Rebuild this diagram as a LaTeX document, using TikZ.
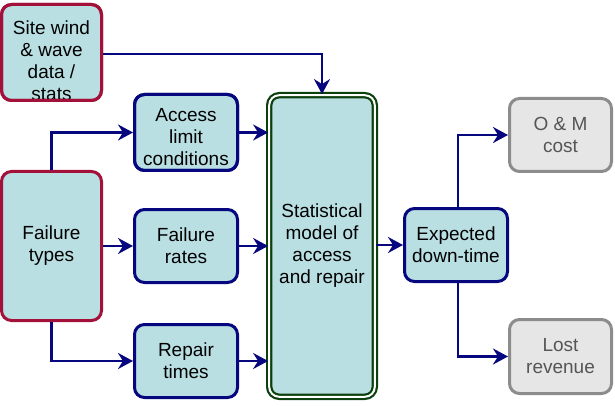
\documentclass[tikz,border=0pt]{standalone}
\usepackage{fontspec}
\setmainfont{Liberation Sans}
\usetikzlibrary{arrows.meta}
\definecolor{boxfill}{HTML}{B9DFE3}
\definecolor{navyb}{HTML}{06067F}
\definecolor{redb}{HTML}{A3103A}
\definecolor{greenb}{HTML}{0C400C}
\definecolor{grayfill}{HTML}{E6E6E6}
\definecolor{grayb}{HTML}{8C8C8C}
\definecolor{graytext}{HTML}{555555}
\begin{document}
\begin{tikzpicture}[x=1pt,y=-1pt,
  base/.style={rounded corners=10pt, align=center, inner sep=0pt,
    font=\fontsize{19}{22}\selectfont, fill=boxfill},
  txt/.style={align=center, inner sep=0pt, font=\fontsize{19}{22}\selectfont},
  bluebox/.style={base, draw=navyb, line width=3pt},
  redbox/.style={base, draw=redb, line width=3pt},
  greenbox/.style={base, draw=greenb, line width=2.2pt, double=white, double distance=2pt},
  graybox/.style={base, draw=grayb, line width=3pt, fill=grayfill, text=graytext},
  conn/.style={draw=navyb, line width=2.5pt, -{Stealth[length=15pt,width=16pt,inset=5pt]}}
]
\useasboundingbox (0,0) rectangle (615,406);
\node[redbox, minimum width=100pt, minimum height=96pt] (site) at (51.5,52.5) {};
\node[txt] (sitet) at ([yshift=-8pt]site.center) {Site wind\\\& wave\\data /\\stats};
\draw[redb, line width=3pt, rounded corners=10pt] ([shift={(1.5pt,1.5pt)}]site.south west) rectangle ([shift={(-1.5pt,-1.5pt)}]site.north east);
\node[redbox, minimum width=100pt, minimum height=149pt] (fail) at (51.5,246) {Failure\\types};
\node[bluebox, minimum width=103pt, minimum height=76pt] (acc) at (186,132.5) {};
\node[txt] (acct) at ([yshift=-5pt]acc.center) {Access\\limit\\conditions};
\draw[navyb, line width=3pt, rounded corners=10pt] ([shift={(1.5pt,1.5pt)}]acc.south west) rectangle ([shift={(-1.5pt,-1.5pt)}]acc.north east);
\node[bluebox, minimum width=103pt, minimum height=73pt] (rates) at (186,246) {Failure\\rates};
\node[bluebox, minimum width=103pt, minimum height=73pt] (rep) at (186,361) {Repair\\times};
\node[greenbox, minimum width=105.6pt, minimum height=301.6pt] (stat) at (322,246) {Statistical\\model of\\access\\and repair};
\node[bluebox, minimum width=103pt, minimum height=73pt] (exp) at (456,245) {Expected\\down-time};
\node[graybox, minimum width=102pt, minimum height=73pt] (om) at (560.5,135) {O \& M\\cost};
\node[graybox, minimum width=102pt, minimum height=74pt] (lost) at (560.5,356.5) {Lost\\revenue};

\coordinate (c1) at (322,54);
\draw[conn] (site.east |- c1) -| (stat.north);
\draw[conn] (fail.north) |- (acc.west);
\draw[conn] (fail.east |- rates.west) -- (rates.west);
\draw[conn] (fail.south) |- (rep.west);
\draw[conn] (acc.east) -- (stat.west |- acc.east);
\draw[conn] (rates.east) -- (stat.west |- rates.east);
\draw[conn] (rep.east) -- (stat.west |- rep.east);
\draw[conn] (stat.east |- exp.west) -- (exp.west);
\draw[conn] ([xshift=2pt]exp.north) |- (om.west);
\draw[conn] ([xshift=2pt]exp.south) |- (lost.west);
\end{tikzpicture}
\end{document}
